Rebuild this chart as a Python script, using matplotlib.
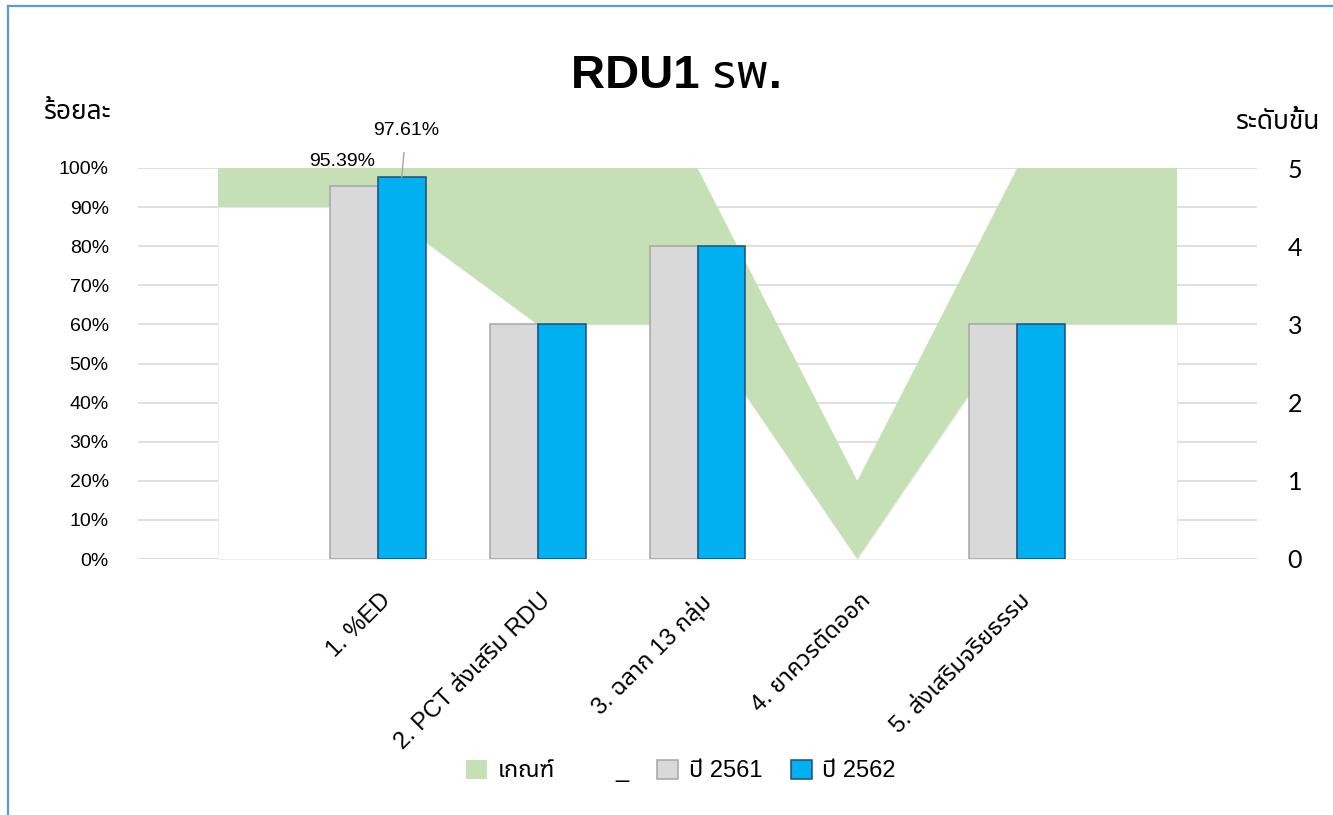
import numpy as np
import matplotlib
matplotlib.use("Agg")
import matplotlib.pyplot as plt
from matplotlib import font_manager
from matplotlib.ft2font import FT2Font
from matplotlib.patches import Patch
from matplotlib.lines import Line2D
from matplotlib.ticker import PercentFormatter
from matplotlib.transforms import ScaledTranslation

# ---------------- data ----------------
categories = ["", "1. %ED", "2. PCT ส่งเสริม RDU", "3. ฉลาก 13 กลุ่ม",
              "4. ยาควรตัดออก", "5. ส่งเสริมจริยธรรม", ""]
year_2561 = [np.nan, 0.9539, 0.60, 0.80, 0.00, 0.60, np.nan]
year_2562 = [np.nan, 0.9761, 0.60, 0.80, 0.00, 0.60, np.nan]
criteria_base = [4.5, 4.5, 3, 3, 0, 3, 3]     # white (invisible) stacked base "_"
criteria_band = [0.5, 0.5, 2, 2, 1, 2, 2]     # green band "เกณฑ์"
left_ticks = [0.0, 0.1, 0.2, 0.3, 0.4, 0.5, 0.6, 0.7, 0.8, 0.9, 1.0]
right_ticks = [0, 1, 2, 3, 4, 5]
legend_labels = ["เกณฑ์", "_", "ปี 2561", "ปี 2562"]
title_text = "RDU1 รพ."
left_title = "ร้อยละ"
right_title = "ระดับขั้น"


# ---------------- fonts ----------------
def find_thai_font():
    pref = ["Noto Sans Thai", "Noto Sans Thai UI", "Loma", "Garuda", "Tlwg Typist",
            "Umpush", "Waree", "Sarabun", "Kinnari", "Norasi", "Laksaman"]
    found = []
    for f in font_manager.fontManager.ttflist:
        try:
            cmap = FT2Font(f.fname).get_charmap()
            if 0x0E01 in cmap and 0x0E2A in cmap and 0x0E48 in cmap:
                found.append(f.name)
        except Exception:
            pass
    for p in pref:
        if p in found:
            return p
    return found[0] if found else None


thai = find_thai_font()
fam = ["Liberation Sans"] + ([thai] if thai else []) + ["DejaVu Sans"]
fam_num = ["Lato", "DejaVu Sans"]
plt.rcParams["font.family"] = fam

GREEN = "#C5E0B4"
GRAY = "#D9D9D9"
GRAY_EDGE = "#A6A6A6"
BLUE = "#00B0F0"
BLUE_EDGE = "#1F4E79"
GRID = "#D9D9D9"

W, H = 1333, 815
fig = plt.figure(figsize=(W / 100, H / 100), dpi=100)
ax = fig.add_axes([138 / W, 1 - 559 / H, (1257 - 138) / W, (559 - 168) / H])
ax2 = ax.twinx()
ax.set_zorder(2)
ax2.set_zorder(1)
ax.patch.set_visible(False)

x = np.arange(len(categories))

# secondary axis: gridlines + criteria band (stacked area)
ax2.set_ylim(0, 5)
ax2.set_yticks(right_ticks)
ax2.set_yticks(np.arange(0.5, 5, 1.0), minor=True)
ax2.set_axisbelow(True)
ax2.grid(True, which="both", axis="y", color=GRID, lw=1.2)
base = np.array(criteria_base, dtype=float)
band = np.array(criteria_band, dtype=float)
ax2.fill_between(x, 0, base, facecolor="white", edgecolor="#EDEDED", lw=0.7, zorder=2)
ax2.fill_between(x, base, base + band, facecolor=GREEN, edgecolor="none", lw=0, zorder=2)
ax2.tick_params(axis="y", which="both", length=0, pad=22)
ax2.tick_params(axis="y", which="major", labelsize=18)
for lab in ax2.get_yticklabels():
    lab.set_family(fam_num)
    lab.set_color("#000000")

# primary axis: bars
ax.set_xlim(-0.5, len(categories) - 0.5)
ax.set_ylim(0, 1)
v1 = np.array(year_2561, dtype=float)
v2 = np.array(year_2562, dtype=float)
m = ~np.isnan(v1)
bw = 0.3
ax.bar(x[m] - bw / 2, v1[m], bw, color=GRAY, edgecolor=GRAY_EDGE,
       linewidth=[1.1 if v > 0 else 0 for v in v1[m]], zorder=3)
ax.bar(x[m] + bw / 2, v2[m], bw, color=BLUE, edgecolor=BLUE_EDGE,
       linewidth=[1.1 if v > 0 else 0 for v in v2[m]], zorder=3)

ax.set_yticks(left_ticks)
ax.yaxis.set_major_formatter(PercentFormatter(1.0, decimals=0))
ax.tick_params(axis="y", length=0, pad=21, labelsize=14)
ax.set_xticks(x)
ax.set_xticklabels(categories, rotation=45, ha="right", rotation_mode="anchor",
                   fontsize=17)
ax.tick_params(axis="x", length=0, pad=22)
for lab in ax.get_xticklabels():
    lab.set_transform(lab.get_transform() + ScaledTranslation(2 / 100, 0, fig.dpi_scale_trans))

for a in (ax, ax2):
    for s in a.spines.values():
        s.set_visible(False)

# data labels for the first category
i = 1
ax.annotate(f"{v1[i] * 100:.2f}%", xy=(x[i] - bw / 2, v1[i]), xytext=(-8.5, 17.5),
            textcoords="offset points", ha="center", va="center", fontsize=14)
ax.annotate(f"{v2[i] * 100:.2f}%", xy=(x[i] + bw / 2, v2[i]), xytext=(3, 34),
            textcoords="offset points", ha="center", va="center", fontsize=14,
            arrowprops=dict(arrowstyle="-", color="#A6A6A6", lw=1.0,
                            shrinkA=8, shrinkB=0))

# titles
fig.text(676 / W, 1 - 76 / H, title_text, ha="center", va="center",
         fontsize=34, fontweight="bold")
fig.text(44 / W, 1 - 112 / H, left_title, ha="left", va="center", fontsize=19)
fig.text(1320 / W, 1 - 122 / H, right_title, ha="right", va="center", fontsize=19)

# legend
handles = [Patch(facecolor=GREEN, edgecolor="none"),
           Patch(facecolor="white", edgecolor="none"),
           Patch(facecolor=GRAY, edgecolor=GRAY_EDGE, lw=1.1),
           Patch(facecolor=BLUE, edgecolor=BLUE_EDGE, lw=1.1)]
fig.legend(handles, legend_labels, loc="center", bbox_to_anchor=(681 / W, 1 - 771 / H),
           ncol=4, frameon=False, fontsize=17, handlelength=0.9, handleheight=0.9,
           handletextpad=0.45, columnspacing=1.2)

# chart-area border (left and top visible)
fig.add_artist(Line2D([8 / W, 8 / W], [0, 1 - 6 / H], transform=fig.transFigure,
                      color="#5B9BD5", lw=1.6))
fig.add_artist(Line2D([8 / W, 1], [1 - 6 / H, 1 - 6 / H], transform=fig.transFigure,
                      color="#5B9BD5", lw=1.6))

fig.savefig("out.png", dpi=100, facecolor="white")
